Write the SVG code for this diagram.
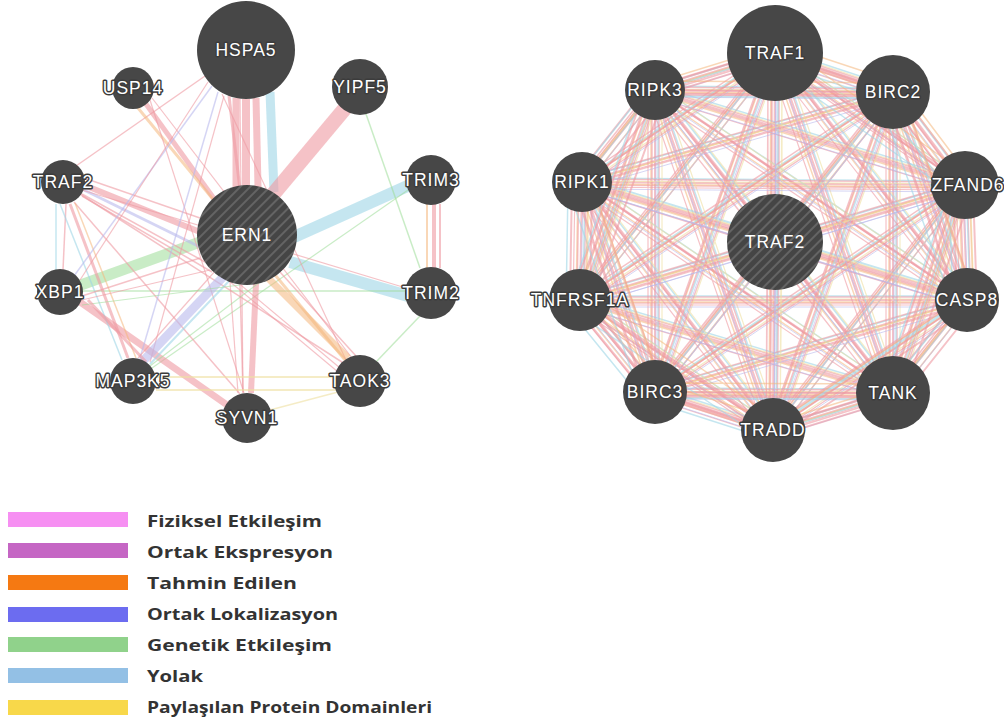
<svg xmlns="http://www.w3.org/2000/svg" xmlns:xlink="http://www.w3.org/1999/xlink" width="1004" height="719" viewBox="0 0 1004 719">
<style>
.node{fill:#474747}
.hub{fill:url(#hatch)}
.lbl{font-family:"Liberation Sans",Arial,sans-serif;font-size:17.5px;letter-spacing:1px;fill:#fff;stroke:#3c3c3c;stroke-width:3px;paint-order:stroke;stroke-linejoin:round;text-anchor:middle;dominant-baseline:central}
.e{fill:none;stroke-linecap:butt}
.pk{stroke:#ee9aa2;stroke-opacity:.6}
.or{stroke:#f4b77c;stroke-opacity:.55}
.bl{stroke:#9fd6e6;stroke-opacity:.6}
.gr{stroke:#9ddc98;stroke-opacity:.55}
.lv{stroke:#b9b9ec;stroke-opacity:.6}
.yl{stroke:#efe0a0;stroke-opacity:.6}
.leg{font-family:"Open Sans","Noto Sans",sans-serif;font-weight:700;font-size:16px;fill:#333}
</style>
<defs>
<pattern id="hatch" width="7" height="7" patternUnits="userSpaceOnUse" patternTransform="rotate(45)">
<rect width="7" height="7" fill="#454545"/>
<line x1="1" y1="0" x2="1" y2="7" stroke="#6c6c6c" stroke-width="1.6"/>
</pattern>
<path id="mesh" d="M775 53L655 90M775 53L893 92M775 53L582 182M775 53L963 185M775 53L775 242M775 53L580 300M775 53L967 300M775 53L655 392M775 53L893 393M775 53L773 430M655 90L893 92M655 90L582 182M655 90L963 185M655 90L775 242M655 90L580 300M655 90L967 300M655 90L655 392M655 90L893 393M655 90L773 430M893 92L582 182M893 92L963 185M893 92L775 242M893 92L580 300M893 92L967 300M893 92L655 392M893 92L893 393M893 92L773 430M582 182L963 185M582 182L775 242M582 182L580 300M582 182L967 300M582 182L655 392M582 182L893 393M582 182L773 430M963 185L775 242M963 185L580 300M963 185L967 300M963 185L655 392M963 185L893 393M963 185L773 430M775 242L580 300M775 242L967 300M775 242L655 392M775 242L893 393M775 242L773 430M580 300L967 300M580 300L655 392M580 300L893 393M580 300L773 430M967 300L655 392M967 300L893 393M967 300L773 430M655 392L893 393M655 392L773 430M893 393L773 430"/>
<path id="ring" d="M775 53L655 90M655 90L582 182M582 182L580 300M580 300L655 392M655 392L773 430M773 430L893 393M893 393L967 300M967 300L963 185M963 185L893 92M893 92L775 53M655 90L580 300M582 182L655 392M580 300L773 430M655 392L893 393M773 430L967 300M893 393L963 185M967 300L893 92M963 185L775 53M893 92L655 90"/>
</defs>
<rect width="1004" height="719" fill="#fff"/>

<g id="connectors">
<g id="left-edges" class="e">
<line class="pk" x1="236" y1="98" x2="236" y2="188" stroke-width="7"/>
<line class="pk" x1="246" y1="99" x2="246" y2="186" stroke-width="8"/>
<line class="pk" x1="256" y1="98" x2="258" y2="187" stroke-width="7"/>
<line class="pk" x1="229" y1="96" x2="240" y2="190" stroke-width="3"/>
<line class="bl" x1="270" y1="92" x2="274" y2="192" stroke-width="9"/>
<line class="pk" x1="347" y1="106" x2="270" y2="198" stroke-width="15"/>
<line class="bl" x1="412" y1="184" x2="294" y2="237" stroke-width="12"/>
<line class="bl" x1="408" y1="296" x2="290" y2="262" stroke-width="12"/>
<line class="pk" x1="434" y1="204" x2="434" y2="268" stroke-width="4"/>
<line class="or" x1="427" y1="204" x2="427" y2="268" stroke-width="2"/>
<line class="pk" x1="440" y1="204" x2="440" y2="268" stroke-width="2"/>
<line class="gr" x1="366" y1="114" x2="420" y2="268" stroke-width="1.5"/>
<line class="gr" x1="82" y1="291" x2="405" y2="291" stroke-width="1.5"/>
<line class="gr" x1="376" y1="362" x2="420" y2="316" stroke-width="1.5"/>
<line class="gr" x1="408" y1="190" x2="152" y2="368" stroke-width="1.2"/>
<line class="gr" x1="78" y1="286" x2="200" y2="242" stroke-width="11"/>
<line class="pk" x1="80" y1="302" x2="230" y2="407" stroke-width="7"/>
<line class="pk" x1="84" y1="185" x2="200" y2="232" stroke-width="6"/>
<line class="lv" x1="84" y1="190" x2="202" y2="248" stroke-width="3"/>
<line class="pk" x1="82" y1="194" x2="205" y2="262" stroke-width="1.5"/>
<line class="pk" x1="84" y1="178" x2="200" y2="218" stroke-width="1.5"/>
<line class="pk" x1="82" y1="196" x2="212" y2="272" stroke-width="1.5"/>
<line class="pk" x1="76" y1="166" x2="205" y2="76" stroke-width="1.5"/>
<line class="pk" x1="80" y1="194" x2="345" y2="364" stroke-width="1.5"/>
<line class="pk" x1="82" y1="190" x2="406" y2="288" stroke-width="1.2"/>
<line class="pk" x1="74" y1="202" x2="240" y2="394" stroke-width="1.5"/>
<line class="pk" x1="70" y1="204" x2="128" y2="358" stroke-width="3"/>
<line class="or" x1="75" y1="203" x2="136" y2="358" stroke-width="1.5"/>
<line class="bl" x1="56" y1="204" x2="56" y2="270" stroke-width="1.5"/>
<line class="pk" x1="66" y1="204" x2="63" y2="270" stroke-width="1.5"/>
<line class="bl" x1="60" y1="204" x2="122" y2="360" stroke-width="1.5"/>
<line class="pk" x1="146" y1="104" x2="215" y2="200" stroke-width="5"/>
<line class="or" x1="138" y1="108" x2="345" y2="360" stroke-width="3"/>
<line class="pk" x1="150" y1="100" x2="244" y2="393" stroke-width="1.2"/>
<line class="pk" x1="152" y1="98" x2="352" y2="358" stroke-width="1.2"/>
<line class="lv" x1="212" y1="86" x2="74" y2="276" stroke-width="1.5"/>
<line class="lv" x1="218" y1="92" x2="140" y2="358" stroke-width="1.5"/>
<line class="pk" x1="208" y1="82" x2="80" y2="280" stroke-width="1.2"/>
<line class="pk" x1="224" y1="96" x2="150" y2="362" stroke-width="1.2"/>
<line class="pk" x1="222" y1="94" x2="346" y2="360" stroke-width="1.2"/>
<line class="pk" x1="240" y1="98" x2="243" y2="392" stroke-width="1.2"/>
<line class="lv" x1="142" y1="362" x2="224" y2="276" stroke-width="9"/>
<line class="bl" x1="150" y1="364" x2="230" y2="280" stroke-width="2"/>
<line class="pk" x1="138" y1="358" x2="216" y2="270" stroke-width="1.2"/>
<line class="pk" x1="256" y1="283" x2="251" y2="393" stroke-width="6"/>
<line class="pk" x1="240" y1="285" x2="243" y2="393" stroke-width="1.5"/>
<line class="pk" x1="230" y1="282" x2="238" y2="393" stroke-width="1.2"/>
<line class="or" x1="268" y1="278" x2="348" y2="358" stroke-width="7"/>
<line class="pk" x1="280" y1="272" x2="356" y2="356" stroke-width="1.5"/>
<line class="pk" x1="205" y1="255" x2="340" y2="368" stroke-width="1.2"/>
<line class="pk" x1="210" y1="265" x2="338" y2="372" stroke-width="1.2"/>
<line class="pk" x1="82" y1="296" x2="200" y2="258" stroke-width="1.5"/>
<line class="pk" x1="82" y1="300" x2="210" y2="270" stroke-width="1.2"/>
<line class="gr" x1="82" y1="305" x2="240" y2="285" stroke-width="1.2"/>
<line class="yl" x1="156" y1="377" x2="334" y2="377" stroke-width="1.8"/>
<line class="yl" x1="156" y1="390" x2="336" y2="390" stroke-width="1.8"/>
<line class="yl" x1="270" y1="410" x2="338" y2="392" stroke-width="1.5"/>
<line class="gr" x1="150" y1="366" x2="286" y2="262" stroke-width="1.2"/>
<line class="pk" x1="88" y1="300" x2="146" y2="362" stroke-width="3"/>
</g>
<g id="right-edges" class="e">
<use href="#mesh" class="pk" stroke-width="2"/>
<use href="#mesh" class="pk" stroke-width="1.5" transform="translate(4 3)"/>
<use href="#mesh" class="or" stroke-width="1.5" transform="translate(-4 2)"/>
<use href="#mesh" class="bl" stroke-width="1.5" transform="translate(3 -4)"/>
<use href="#mesh" class="pk" stroke-width="1.5" transform="translate(-3 -3)"/>
<use href="#mesh" class="yl" stroke-width="1.2" transform="translate(7 -1)"/>
<use href="#mesh" class="pk" stroke-width="1.2" transform="translate(-7 5)"/>
<use href="#mesh" class="lv" stroke-width="1" transform="translate(1 7)"/>
<use href="#ring" class="pk" stroke-width="2" transform="translate(-10 0)"/>
<use href="#ring" class="pk" stroke-width="2" transform="translate(10 4)"/>
<use href="#ring" class="bl" stroke-width="1.5" transform="translate(-14 6)"/>
<use href="#ring" class="or" stroke-width="1.5" transform="translate(6 -9)"/>
</g>
</g>

<g id="n-HSPA5"><circle class="node" cx="246" cy="50" r="49"/><text class="lbl" x="246" y="50">HSPA5</text></g>
<g id="n-USP14"><circle class="node" cx="133" cy="88" r="21"/><text class="lbl" x="133" y="88">USP14</text></g>
<g id="n-YIPF5"><circle class="node" cx="360" cy="87" r="28"/><text class="lbl" x="360" y="87">YIPF5</text></g>
<g id="n-TRAF2-left"><circle class="node" cx="63" cy="182" r="22"/><text class="lbl" x="63" y="182">TRAF2</text></g>
<g id="n-TRIM3"><circle class="node" cx="431" cy="180" r="25"/><text class="lbl" x="431" y="180">TRIM3</text></g>
<g id="n-ERN1"><circle class="hub" cx="247" cy="235" r="50"/><text class="lbl" x="247" y="235" style="stroke:none">ERN1</text></g>
<g id="n-XBP1"><circle class="node" cx="60" cy="292" r="23"/><text class="lbl" x="60" y="292">XBP1</text></g>
<g id="n-TRIM2"><circle class="node" cx="431" cy="293" r="26"/><text class="lbl" x="431" y="293">TRIM2</text></g>
<g id="n-MAP3K5"><circle class="node" cx="133" cy="381" r="23"/><text class="lbl" x="133" y="381">MAP3K5</text></g>
<g id="n-TAOK3"><circle class="node" cx="360" cy="381" r="26"/><text class="lbl" x="360" y="381">TAOK3</text></g>
<g id="n-SYVN1"><circle class="node" cx="247" cy="418" r="25"/><text class="lbl" x="247" y="418">SYVN1</text></g>

<g id="n-TRAF1"><circle class="node" cx="775" cy="53" r="48"/><text class="lbl" x="775" y="53">TRAF1</text></g>
<g id="n-RIPK3"><circle class="node" cx="655" cy="90" r="30"/><text class="lbl" x="655" y="90">RIPK3</text></g>
<g id="n-BIRC2"><circle class="node" cx="893" cy="92" r="37"/><text class="lbl" x="893" y="92">BIRC2</text></g>
<g id="n-RIPK1"><circle class="node" cx="582" cy="182" r="30"/><text class="lbl" x="582" y="182">RIPK1</text></g>
<g id="n-ZFAND6"><circle class="node" cx="965" cy="185" r="34"/><text class="lbl" x="968" y="185">ZFAND6</text></g>
<g id="n-TRAF2-right"><circle class="hub" cx="775" cy="242" r="48"/><text class="lbl" x="775" y="242" style="stroke:none">TRAF2</text></g>
<g id="n-TNFRSF1A"><circle class="node" cx="580" cy="300" r="31"/><text class="lbl" x="580" y="300">TNFRSF1A</text></g>
<g id="n-CASP8"><circle class="node" cx="967" cy="300" r="32"/><text class="lbl" x="967" y="300">CASP8</text></g>
<g id="n-BIRC3"><circle class="node" cx="655" cy="392" r="32"/><text class="lbl" x="655" y="392">BIRC3</text></g>
<g id="n-TANK"><circle class="node" cx="893" cy="393" r="37"/><text class="lbl" x="893" y="393">TANK</text></g>
<g id="n-TRADD"><circle class="node" cx="773" cy="430" r="32"/><text class="lbl" x="773" y="430">TRADD</text></g>

<g id="legend">
<rect x="8" y="512" width="120" height="15" fill="#f68ff2"/>
<rect x="8" y="543" width="120" height="15" fill="#c566c4"/>
<rect x="8" y="575" width="120" height="15" fill="#f57912"/>
<rect x="8" y="607" width="120" height="15" fill="#6c6cf0"/>
<rect x="8" y="637" width="120" height="15" fill="#90d28b"/>
<rect x="8" y="668" width="120" height="15" fill="#93c0e5"/>
<rect x="8" y="700" width="120" height="15" fill="#f8d84a"/>
<text class="leg" x="147" y="527" textLength="175" lengthAdjust="spacingAndGlyphs">Fiziksel Etkileşim</text>
<text class="leg" x="147" y="558" textLength="186" lengthAdjust="spacingAndGlyphs">Ortak Ekspresyon</text>
<text class="leg" x="147" y="589" textLength="150" lengthAdjust="spacingAndGlyphs">Tahmin Edilen</text>
<text class="leg" x="147" y="620" textLength="191" lengthAdjust="spacingAndGlyphs">Ortak Lokalizasyon</text>
<text class="leg" x="147" y="651" textLength="185" lengthAdjust="spacingAndGlyphs">Genetik Etkileşim</text>
<text class="leg" x="147" y="682" textLength="56" lengthAdjust="spacingAndGlyphs">Yolak</text>
<text class="leg" x="147" y="713" textLength="285" lengthAdjust="spacingAndGlyphs">Paylaşılan Protein Domainleri</text>
</g>
</svg>
